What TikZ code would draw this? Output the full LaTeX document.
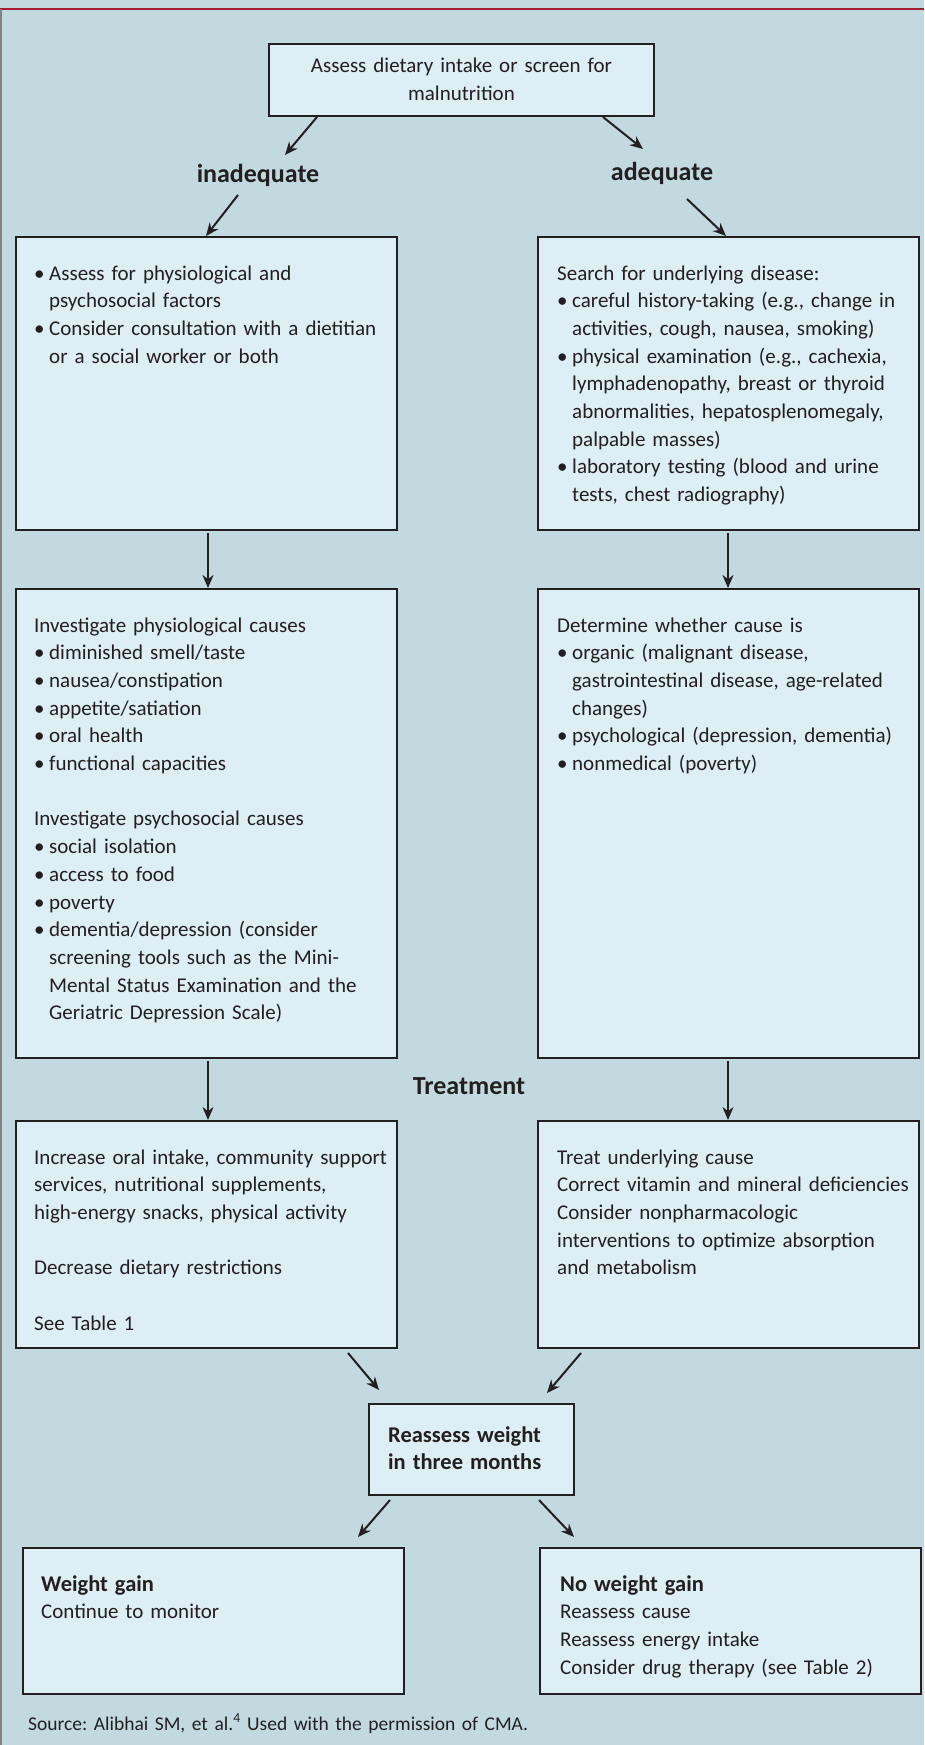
\documentclass[tikz,border=0pt]{standalone}
\usepackage{fontspec}
\setmainfont{Carlito}
\usepackage{xcolor}
\usepackage{tikz}
\usetikzlibrary{arrows.meta, positioning, calc}
\definecolor{bgblue}{HTML}{C2DADF}
\definecolor{boxblue}{HTML}{DDEEF4}
\definecolor{inkdark}{HTML}{231F20}
\definecolor{rulered}{HTML}{A51C30}
\definecolor{edgegray}{HTML}{808285}
\newcommand{\bpt}{\makebox[15pt][l]{\textbullet}}
\newcommand{\bind}{\hspace*{15pt}}
\newcommand{\hd}[1]{{\fontsize{22.5}{27.7}\selectfont\bfseries #1}}
\frenchspacing

\begin{document}
\begin{tikzpicture}[x=1pt, y=-1pt,
  box/.style={draw=inkdark, fill=boxblue, line width=2pt, inner sep=0pt, anchor=north west},
  txt/.style={anchor=base west, inner sep=0pt, text width=360pt, align=left, text=inkdark, font=\fontsize{21}{27.7}\selectfont},
  lbl/.style={inner sep=0pt, text=inkdark, font=\bfseries\fontsize{26}{30}\selectfont},
  arr/.style={draw=inkdark, line width=2pt, -{Stealth[length=13pt, width=11pt]}}]
\useasboundingbox (0,0) rectangle (924,1745);
% Background and frame
\fill[bgblue] (0,0) rectangle (924,1745);
\draw[rulered, line width=2.5pt] (0,9) -- (924,9);
\draw[edgegray, line width=1.5pt] (1,9) -- (1,1745);
% Boxes
\node[box, minimum width=385pt, minimum height=72pt] (top) at (268,43) {};
\node[box, minimum width=381pt, minimum height=293pt] (l1) at (15,236) {};
\node[box, minimum width=381pt, minimum height=293pt] (r1) at (537,236) {};
\node[box, minimum width=381pt, minimum height=469pt] (l2) at (15,588) {};
\node[box, minimum width=381pt, minimum height=469pt] (r2) at (537,588) {};
\node[box, minimum width=381pt, minimum height=227pt] (l3) at (15,1120) {};
\node[box, minimum width=381pt, minimum height=227pt] (r3) at (537,1120) {};
\node[box, minimum width=205pt, minimum height=91pt] (mid) at (368,1403) {};
\node[box, minimum width=381pt, minimum height=146pt] (l4) at (22,1547) {};
\node[box, minimum width=381pt, minimum height=146pt] (r4) at (539,1547) {};
% Labels
\node[lbl] (inad) at (258,175) {inadequate};
\node[lbl] (adeq) at (662,173) {adequate};
\node[lbl] (treat) at (469,1086) {Treatment};
% Box texts
\node[txt, anchor=base, align=center] (topt) at ([yshift=-30pt]top.north) {Assess dietary intake or screen for\\malnutrition};
\node[txt] (l1t) at ([shift={(19pt,-44pt)}]l1.north west) {\bpt Assess for physiological and\\
\bind psychosocial factors\\
\bpt Consider consultation with a dietitian\\
\bind or a social worker or both};
\node[txt] (r1t) at ([shift={(20pt,-44pt)}]r1.north west) {Search for underlying disease:\\
\bpt careful history-taking (e.g., change in\\
\bind activities, cough, nausea, smoking)\\
\bpt physical examination (e.g., cachexia,\\
\bind lymphadenopathy, breast or thyroid\\
\bind abnormalities, hepatosplenomegaly,\\
\bind palpable masses)\\
\bpt laboratory testing (blood and urine\\
\bind tests, chest radiography)};
\node[txt] (l2t) at ([shift={(19pt,-44pt)}]l2.north west) {Investigate physiological causes\\
\bpt diminished smell/taste\\
\bpt nausea/constipation\\
\bpt appetite/satiation\\
\bpt oral health\\
\bpt functional capacities\\[27.7pt]
Investigate psychosocial causes\\
\bpt social isolation\\
\bpt access to food\\
\bpt poverty\\
\bpt dementia/depression (consider\\
\bind screening tools such as the Mini-\\
\bind Mental Status Examination and the\\
\bind Geriatric Depression Scale)};
\node[txt] (r2t) at ([shift={(20pt,-44pt)}]r2.north west) {Determine whether cause is\\
\bpt organic (malignant disease,\\
\bind gastrointestinal disease, age-related\\
\bind changes)\\
\bpt psychological (depression, dementia)\\
\bpt nonmedical (poverty)};
\node[txt] (l3t) at ([shift={(19pt,-44pt)}]l3.north west) {Increase oral intake, community support\\
services, nutritional supplements,\\
high-energy snacks, physical activity\\[27.7pt]
Decrease dietary restrictions\\[27.7pt]
See Table 1};
\node[txt] (r3t) at ([shift={(20pt,-44pt)}]r3.north west) {Treat underlying cause\\
Correct vitamin and mineral deficiencies\\
Consider nonpharmacologic\\
interventions to optimize absorption\\
and metabolism};
\node[txt, text width=190pt] (midt) at ([shift={(20pt,-39pt)}]mid.north west) {\hd{Reassess weight}\\\hd{in three months}};
\node[txt] (l4t) at ([shift={(19pt,-44pt)}]l4.north west) {\hd{Weight gain}\\
Continue to monitor};
\node[txt] (r4t) at ([shift={(21pt,-44pt)}]r4.north west) {\hd{No weight gain}\\
Reassess cause\\
Reassess energy intake\\
Consider drug therapy (see Table 2)};
% Source line
\node[txt, text width=700pt, font=\fontsize{19.5}{24}\selectfont] (src) at (28,1730) {Source: Alibhai SM, et al.\textsuperscript{4} Used with the permission of CMA.};
% Arrows
\draw[arr] ([xshift=49pt]top.south west) -- ([shift={(27pt,20pt)}]inad.center);
\draw[arr] ([xshift=335pt]top.south west) -- ([shift={(-19pt,24pt)}]adeq.center);
\draw[arr] ([shift={(-20pt,-20pt)}]inad.center) -- ([xshift=191pt]l1.north west);
\draw[arr] ([shift={(25pt,-26pt)}]adeq.center) -- ([xshift=189pt]r1.north west);
\draw[arr] ([shift={(193pt,-2pt)}]l1.south west) -- ([xshift=193pt]l2.north west);
\draw[arr] ([shift={(191pt,-2pt)}]r1.south west) -- ([xshift=191pt]r2.north west);
\draw[arr] ([shift={(193pt,-2pt)}]l2.south west) -- ([xshift=193pt]l3.north west);
\draw[arr] ([shift={(191pt,-2pt)}]r2.south west) -- ([xshift=191pt]r3.north west);
\draw[arr] ([shift={(333pt,-4pt)}]l3.south west) -- ([shift={(11pt,13pt)}]mid.north west);
\draw[arr] ([shift={(44pt,-4pt)}]r3.south west) -- ([shift={(179pt,10pt)}]mid.north west);
\draw[arr] ([shift={(22pt,-4pt)}]mid.south west) -- ([shift={(336pt,10pt)}]l4.north west);
\draw[arr] ([shift={(171pt,-4pt)}]mid.south west) -- ([shift={(35pt,10pt)}]r4.north west);
\end{tikzpicture}
\end{document}
